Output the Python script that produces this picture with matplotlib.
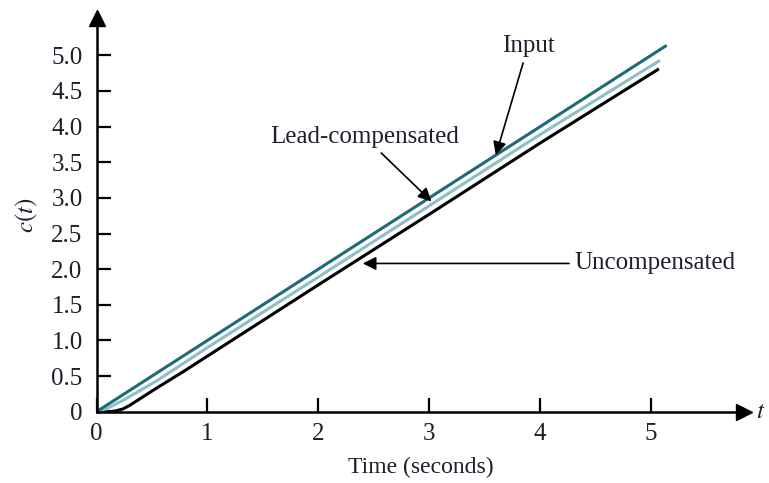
import numpy as np
import matplotlib.pyplot as plt

plt.rcParams['font.family'] = ['Liberation Serif', 'DejaVu Serif']
plt.rcParams['mathtext.fontset'] = 'stix'

# values
t_input = [0, 5.14]
c_input = [0, 5.14]

t_lead = [0, 0.1, 0.24, 0.54, 1.0, 2.0, 3.0, 4.0, 5.08]
c_lead = [0, 0.05, 0.16, 0.43, 0.90, 1.89, 2.89, 3.89, 4.93]

t_unc = [0, 0.1, 0.17, 0.24, 0.3, 0.39, 0.54, 0.78, 1.0, 2.0, 3.0, 4.0, 5.07]
c_unc = [0, 0.0, 0.01, 0.04, 0.09, 0.18, 0.33, 0.56, 0.78, 1.78, 2.77, 3.77, 4.81]

xticks = [0, 1, 2, 3, 4, 5]
yticks = [0, 0.5, 1.0, 1.5, 2.0, 2.5, 3.0, 3.5, 4.0, 4.5, 5.0]
ytick_labels = ['0', '0.5', '1.0', '1.5', '2.0', '2.5', '3.0', '3.5', '4.0', '4.5', '5.0']

c_teal = '#1d6b78'
c_light = '#8fbfc6'
txt = '#1e1e2c'

fig = plt.figure(figsize=(7.69, 4.83), dpi=100)
# axes spans t 0..5.84, c 0..5.52 so the arrow heads land where the reference has them
ax = fig.add_axes([0.1255, 0.1476, 0.8424, 0.8146])
ax.set_xlim(0, 5.84)
ax.set_ylim(0, 5.52)

ax.plot(t_unc, c_unc, color='black', linewidth=2.2, solid_capstyle='butt')
ax.plot(t_lead, c_lead, color=c_light, linewidth=2.2, solid_capstyle='butt')
ax.plot(t_input, c_input, color=c_teal, linewidth=2.2, solid_capstyle='butt')

for s in ['top', 'right']:
    ax.spines[s].set_visible(False)
for s in ['left', 'bottom']:
    ax.spines[s].set_linewidth(1.8)

# arrow heads on the axes
ax.plot(1, 0, '>', color='black', markersize=11, transform=ax.transAxes, clip_on=False)
ax.plot(0, 1, '^', color='black', markersize=11, transform=ax.transAxes, clip_on=False)

ax.set_xticks(xticks)
ax.set_xticklabels([str(x) for x in xticks])
ax.set_yticks(yticks)
ax.set_yticklabels(ytick_labels)
ax.tick_params(direction='in', length=10, width=1.6, labelsize=18, colors='black',
               labelcolor=txt)
ax.tick_params(axis='x', pad=8)
ax.tick_params(axis='y', pad=10)

ax.set_xlabel('Time (seconds)', fontsize=17, color=txt, labelpad=9)
ax.set_ylabel(r'$c(t)$', fontsize=18, color=txt, labelpad=8)
ax.text(1.018, 0, r'$t$', transform=ax.transAxes, fontsize=18, color=txt,
        va='center', ha='left')

arrowprops = dict(arrowstyle='-|>', color='black', lw=1.2, mutation_scale=20,
                  shrinkA=2, shrinkB=0)
ax.annotate('Input', xy=(3.6, 3.6), xytext=(3.89, 4.97), fontsize=18, color=txt,
            ha='center', va='bottom', arrowprops=arrowprops)
ax.annotate('Lead-compensated', xy=(3.02, 2.95), xytext=(2.42, 3.85), fontsize=18,
            color=txt, ha='center', va='center', arrowprops=arrowprops)
ax.annotate('Uncompensated', xy=(2.4, 2.08), xytext=(4.31, 2.08), fontsize=18,
            color=txt, ha='left', va='center', arrowprops=arrowprops)

fig.savefig('out.png', dpi=100)
